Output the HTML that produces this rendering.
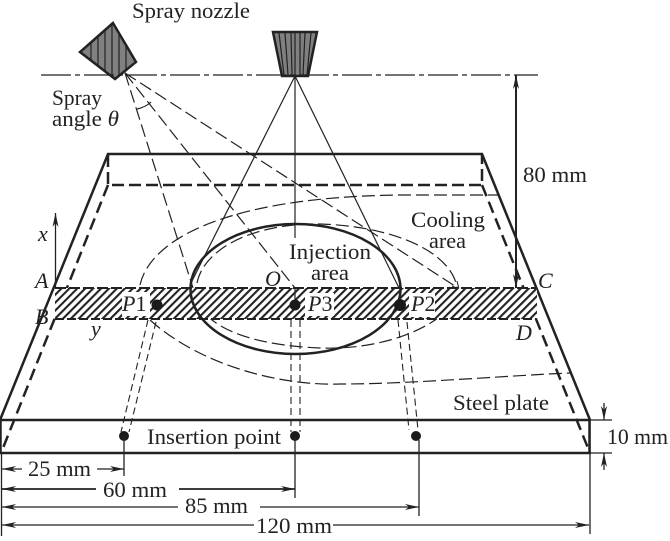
<!DOCTYPE html>
<html><head><meta charset="utf-8"><style>
html,body{margin:0;padding:0;background:#fff}
svg{display:block}
text{font-family:"Liberation Serif",serif;font-size:22px;fill:#222}
.i{font-style:italic}
</style></head><body>
<svg width="670" height="541" viewBox="0 0 670 541" xmlns="http://www.w3.org/2000/svg">
<defs>
<pattern id="h" width="5.6" height="5.6" patternUnits="userSpaceOnUse" patternTransform="rotate(45)">
<rect width="5.6" height="5.6" fill="#fff"/><rect width="2.1" height="5.6" fill="#222"/>
</pattern>
<clipPath id="n1"><polygon points="113,23 80,52 115,79 136,62"/></clipPath>
<marker id="a" viewBox="0 0 14 6" refX="14" refY="3" markerWidth="14" markerHeight="6" orient="auto-start-reverse" markerUnits="userSpaceOnUse"><path d="M0,0 L14,3 L0,6 L4,3z" fill="#222"/></marker>
</defs>

<!-- nozzles -->
<polygon points="113,23 80,52 115,79 136,62" fill="#808080" stroke="#222" stroke-width="2.5"/>
<g clip-path="url(#n1)" stroke="#222" stroke-width="1.2"><path d="M91,20V80M98,20V80M105,20V80M112,20V80M119,20V80M126,20V80"/></g>
<polygon points="273,32 317,32 308,76 282,76" fill="#808080" stroke="#222" stroke-width="2.5"/>
<path d="M279,33L284,75M285,33L288,75M291,33L292,75M295,33V75M300,33V75M305,33L303,75M311,33L307,75" stroke="#222" stroke-width="1.2" fill="none"/>

<!-- centre line -->
<path d="M41,75H538" stroke="#222" stroke-width="1.2" stroke-dasharray="30 4 5 4" fill="none"/>

<!-- plate -->
<path d="M0,420L108,154H482L590,420" stroke="#222" stroke-width="2.5" fill="none"/>
<rect x="0.5" y="420" width="589" height="33" stroke="#222" stroke-width="2.5" fill="none"/>
<path d="M108,155V185H482V155" stroke="#222" stroke-width="2.5" stroke-dasharray="12 5" fill="none"/>
<path d="M108,185L1,453M482,185L590,453" stroke="#222" stroke-width="2.5" stroke-dasharray="12 6" fill="none"/>

<!-- solid spray lines -->
<path d="M295,76L191,283M295,76L399,288M295,76V238" stroke="#222" stroke-width="1.2" fill="none"/>

<!-- dashed spray lines -->
<g stroke="#222" stroke-width="1.2" fill="none" stroke-dasharray="13 5">
<path d="M125,73L193,288"/>
<path d="M125,73L295,288"/>
<path d="M125,73L458,288"/>
<path d="M140,285C150,240 225,197 400,195C440,195 470,195 498,195"/>
<path d="M150,320C200,365 280,386 340,384C410,384 500,376 570,373"/>
<path d="M197,283C205,245 260,223 320,224C390,226 450,250 457,287"/>
<path d="M197,300C210,335 270,346 320,348C370,350 430,335 457,300"/>
</g>
<path d="M457,281L459,289L452,286" stroke="#222" stroke-width="1" fill="none"/>
<path d="M137,109Q146,107 151,102" stroke="#222" stroke-width="1.2" fill="none"/>

<!-- hatch band -->
<rect x="55" y="288" width="482" height="31" fill="url(#h)"/>
<rect x="122" y="292" width="28" height="24" fill="#fff"/>
<rect x="305" y="293" width="29" height="23" fill="#fff"/>
<rect x="409" y="293" width="26" height="24" fill="#fff"/>
<path d="M55,288H537" stroke="#222" stroke-width="2" stroke-dasharray="11 3" fill="none"/>
<path d="M55,319H537" stroke="#222" stroke-width="2" stroke-dasharray="9 3" fill="none"/>
<path d="M295,288V305" stroke="#222" stroke-width="1.2" fill="none"/>

<!-- injection ellipse -->
<ellipse cx="295.5" cy="289" rx="105" ry="65" stroke="#222" stroke-width="2.5" fill="none"/>

<!-- insertion lines -->
<g stroke="#222" stroke-width="1.1" fill="none" stroke-dasharray="7 4">
<path d="M148,320L121,432"/>
<path d="M156,322L129,432"/>
<path d="M291,320V432"/>
<path d="M300,320V432"/>
<path d="M398,320L409,430"/>
<path d="M407,322L418,430"/>
</g>

<!-- dots -->
<g fill="#1a1a1a">
<circle cx="157" cy="305" r="5.5"/><circle cx="295" cy="305" r="5.5"/><circle cx="400" cy="305" r="6"/>
<circle cx="124" cy="436" r="5"/><circle cx="295" cy="436" r="5"/><circle cx="416" cy="436" r="5"/>
</g>

<!-- dimensions -->
<g stroke="#222" stroke-width="1.3" fill="none">
<path d="M124,436V476M295,436V498M419,440V516M590,420V534M1.5,453V536"/>
<path d="M516,75V288" stroke-width="2" marker-start="url(#a)" marker-end="url(#a)"/>
<path d="M55.5,288V213" marker-end="url(#a)"/>
<path d="M2,469H22" marker-start="url(#a)"/>
<path d="M97,469H124" marker-end="url(#a)"/>
<path d="M2,489H96" marker-start="url(#a)" stroke-width="1.8"/>
<path d="M179,489H295" marker-end="url(#a)" stroke-width="1.8"/>
<path d="M2,507H178" marker-start="url(#a)"/>
<path d="M260,507H419" marker-end="url(#a)"/>
<path d="M2,525H254" marker-start="url(#a)"/>
<path d="M333,525H589" marker-end="url(#a)"/>
<path d="M590,420H612M590,453H612"/>
<path d="M604,403V420" marker-end="url(#a)"/>
<path d="M604,470V453" marker-end="url(#a)"/>
</g>

<!-- labels -->
<text x="132" y="18" textLength="118" lengthAdjust="spacingAndGlyphs">Spray nozzle</text>
<text x="52" y="105" textLength="50" lengthAdjust="spacingAndGlyphs">Spray</text>
<text x="52" y="126" textLength="67" lengthAdjust="spacingAndGlyphs">angle <tspan class="i">θ</tspan></text>
<text x="523" y="182" textLength="64" lengthAdjust="spacingAndGlyphs">80 mm</text>
<text x="411" y="227" textLength="74" lengthAdjust="spacingAndGlyphs">Cooling</text>
<text x="429" y="248" textLength="37" lengthAdjust="spacingAndGlyphs">area</text>
<text x="289" y="259" textLength="82" lengthAdjust="spacingAndGlyphs">Injection</text>
<text x="311" y="280" textLength="38" lengthAdjust="spacingAndGlyphs">area</text>
<text class="i" x="38" y="241">x</text>
<text class="i" x="35" y="288">A</text>
<text class="i" x="35" y="324">B</text>
<text class="i" x="91" y="336">y</text>
<text class="i" x="265" y="286">O</text>
<text class="i" x="122" y="311">P<tspan style="font-style:normal">1</tspan></text>
<text class="i" x="308" y="311">P<tspan style="font-style:normal">3</tspan></text>
<text class="i" x="411" y="311">P<tspan style="font-style:normal">2</tspan></text>
<text class="i" x="538" y="288">C</text>
<text class="i" x="516" y="340">D</text>
<text x="453" y="410" textLength="96" lengthAdjust="spacingAndGlyphs">Steel plate</text>
<text x="147" y="444" textLength="134" lengthAdjust="spacingAndGlyphs">Insertion point</text>
<text x="607" y="444" textLength="61" lengthAdjust="spacingAndGlyphs">10 mm</text>
<text x="28" y="476" textLength="63" lengthAdjust="spacingAndGlyphs">25 mm</text>
<text x="103" y="497" textLength="64" lengthAdjust="spacingAndGlyphs">60 mm</text>
<text x="185" y="513" textLength="63" lengthAdjust="spacingAndGlyphs">85 mm</text>
<text x="256" y="533" textLength="76" lengthAdjust="spacingAndGlyphs">120 mm</text>
</svg>
</body></html>
